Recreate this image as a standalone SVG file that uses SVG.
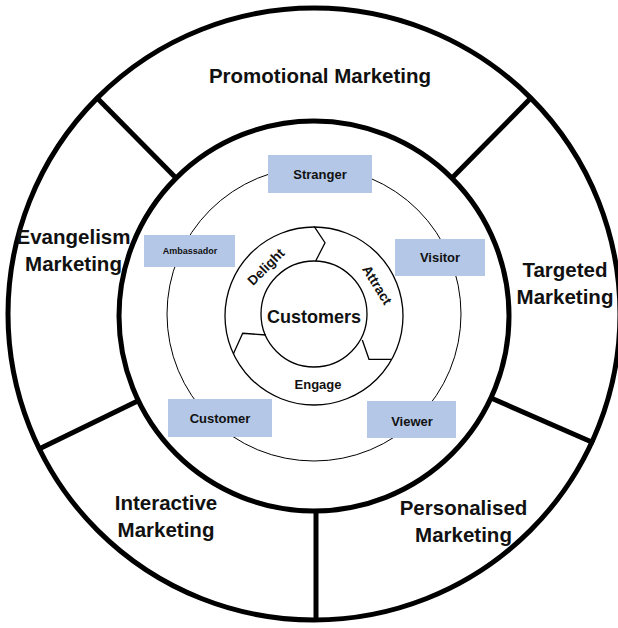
<svg xmlns="http://www.w3.org/2000/svg" width="618" height="628" viewBox="0 0 618 628">
<style>
.bg{fill:#ffffff}
.thick{fill:none;stroke:#000;stroke-width:5}
.thin{fill:none;stroke:#000;stroke-width:1}
.mid{fill:none;stroke:#000;stroke-width:1.3}
.div{stroke:#000;stroke-width:5;stroke-linecap:butt}
.box{fill:#B4C7E7}
.lbl{font-family:"Liberation Sans",Arial,sans-serif;font-weight:bold;fill:#111;text-anchor:middle}
.big{font-size:20.5px}
.sm{font-size:13px}
</style>
<rect class="bg" x="0" y="0" width="618" height="628"/>
<g id="rings">
  <circle class="thick" cx="314" cy="314" r="306"/>
  <circle class="thick" cx="314" cy="316" r="195"/>
  <circle class="thin" cx="314" cy="314" r="147"/>
  <circle class="mid" cx="314" cy="316" r="89"/>
  <circle class="mid" cx="314" cy="314" r="53"/>
</g>
<g id="connectors">
  <line class="div" x1="176" y1="178" x2="97.6" y2="98.6"/>
  <line class="div" x1="452" y1="178" x2="530.4" y2="98.6"/>
  <line class="div" x1="491" y1="398" x2="594" y2="443"/>
  <line class="div" x1="138.7" y1="400.5" x2="39" y2="449"/>
  <line class="div" x1="316" y1="510" x2="316" y2="621"/>
  <polyline class="mid" points="314.3,226.7 325,242.7 315.7,261"/>
  <polyline class="mid" points="362.3,340 369,359.3 391.7,359.3"/>
  <polyline class="mid" points="233.3,354 242.7,333.3 266,335"/>
</g>
<g id="promotional"><text class="lbl big" x="320" y="83">Promotional Marketing</text></g>
<g id="targeted"><text class="lbl big" x="565" y="277">Targeted</text><text class="lbl big" x="565" y="304">Marketing</text></g>
<g id="personalised"><text class="lbl big" x="463.5" y="515">Personalised</text><text class="lbl big" x="463.5" y="542">Marketing</text></g>
<g id="interactive"><text class="lbl big" x="166" y="510">Interactive</text><text class="lbl big" x="166" y="537">Marketing</text></g>
<g id="evangelism"><text class="lbl big" x="73.5" y="244">Evangelism</text><text class="lbl big" x="73.5" y="271">Marketing</text></g>
<g id="stranger"><rect class="box" x="268" y="155" width="104" height="38"/><text class="lbl sm" x="320" y="179">Stranger</text></g>
<g id="visitor"><rect class="box" x="395" y="239" width="90" height="37"/><text class="lbl sm" x="440" y="262">Visitor</text></g>
<g id="viewer"><rect class="box" x="367" y="401" width="89" height="37"/><text class="lbl sm" x="412" y="426">Viewer</text></g>
<g id="customer"><rect class="box" x="168" y="399" width="104" height="38"/><text class="lbl sm" x="220" y="423">Customer</text></g>
<g id="ambassador"><rect class="box" x="144" y="235" width="91" height="32"/><text class="lbl" style="font-size:9px" x="190" y="254">Ambassador</text></g>
<g id="customers"><text class="lbl" style="font-size:18px" x="314" y="323">Customers</text></g>
<g id="delight"><text class="lbl" style="font-size:13.5px" transform="translate(266,267) rotate(-45)" y="4.5">Delight</text></g>
<g id="attract"><text class="lbl" style="font-size:13.5px" transform="translate(377,285) rotate(58)" y="4.5">Attract</text></g>
<g id="engage"><text class="lbl" style="font-size:13px" x="318" y="389">Engage</text></g>
</svg>
